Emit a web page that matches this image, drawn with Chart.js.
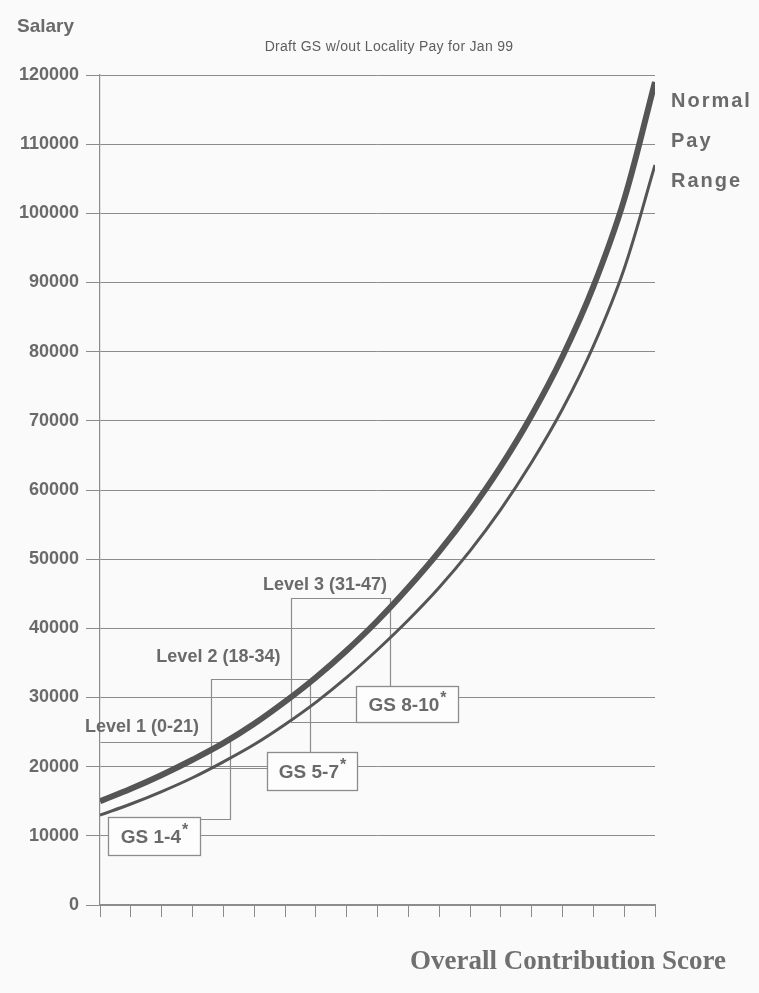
<!DOCTYPE html>
<html>
<head>
<meta charset="utf-8">
<title>Normal Pay Range</title>
<script src="https://cdn.jsdelivr.net/npm/chart.js@4.4.1/dist/chart.umd.min.js"></script>
<style>
  html, body { margin: 0; padding: 0; background: #fafafa; }
  #wrap { width: 759px; height: 993px; }
  canvas { display: block; }
</style>
</head>
<body>
<div id="wrap"><canvas id="payChart" width="759" height="993"></canvas></div>
<script>
// Overall contribution score (x axis, one tick every 5 points)
const scores = [0, 5, 10, 15, 20, 25, 30, 35, 40, 45, 50, 55, 60, 65, 70, 75, 80, 85, 90];

// Upper edge of the normal pay range (salary, $)
const upperPay = [15000, 16800, 18800, 21000, 23400, 26200, 29400, 32900, 36800, 41100,
                  45900, 51100, 56900, 63400, 70800, 79300, 89400, 102000, 119000];

// Lower edge of the normal pay range (salary, $)
const lowerPay = [13000, 14600, 16400, 18400, 20700, 23200, 26100, 29300, 32900, 36900,
                  41200, 45900, 51200, 57200, 64000, 71700, 80800, 92000, 107000];

// Salary axis ticks
const salaryTicks = [0, 10000, 20000, 30000, 40000, 50000, 60000, 70000, 80000, 90000, 100000, 110000, 120000];

// Contribution levels and their score ranges
const levelNames = ['Level 1 (0-21)', 'Level 2 (18-34)', 'Level 3 (31-47)'];
const levelFrom = [0, 18, 31];
const levelTo = [21, 34, 47];

// GS grades matched to each level
const gradeNames = ['GS 1-4', 'GS 5-7', 'GS 8-10'];

const chartTitle = 'Draft GS w/out Locality Pay for Jan 99';
const yAxisTitle = 'Salary';
const xAxisTitle = 'Overall Contribution Score';
const rangeLabel = ['Normal', 'Pay', 'Range'];

const TEXT = '#6a6a6a';
const RULE = '#8c8c8c';
const CURVE = '#555555';

// Placement of the level brackets and grade boxes, in axis units (score, salary)
const bracketTop = [23500, 32700, 44400];
const bracketBase = [12400, 19800, 26500];
const boxes = [
  { x0: 1.3,  x1: 16.2, yTop: 12700, yBot: 7200 },
  { x0: 27.1, x1: 41.7, yTop: 22100, yBot: 16600 },
  { x0: 41.5, x1: 58.1, yTop: 31700, yBot: 26500 }
];
const levelLabelAt = [
  { x: 6.8,  y: 25700 },
  { x: 19.2, y: 35900 },
  { x: 36.5, y: 46300 }
];

function bracketPath(i) {
  const b = boxes[i];
  if (i === 0) {
    return [[levelFrom[i], bracketTop[i]], [levelTo[i], bracketTop[i]],
            [levelTo[i], bracketBase[i]], [b.x1, bracketBase[i]]];
  }
  return [[b.x0, bracketBase[i]], [levelFrom[i], bracketBase[i]],
          [levelFrom[i], bracketTop[i]], [levelTo[i], bracketTop[i]],
          [levelTo[i], b.yTop]];
}

const decorations = {
  id: 'decorations',
  beforeDraw(chart) {
    const c = chart.ctx;
    c.save();
    c.fillStyle = '#fafafa';
    c.fillRect(0, 0, chart.width, chart.height);
    c.restore();
  },
  beforeDatasetsDraw(chart) {
    const c = chart.ctx, xs = chart.scales.x, ys = chart.scales.y;
    c.save();
    c.strokeStyle = RULE;
    c.lineWidth = 1.2;
    levelNames.forEach((_, i) => {
      const pts = bracketPath(i);
      c.beginPath();
      pts.forEach(([sx, sy], k) => {
        const px = Math.round(xs.getPixelForValue(sx)) + 0.5;
        const py = Math.round(ys.getPixelForValue(sy)) + 0.5;
        if (k === 0) c.moveTo(px, py); else c.lineTo(px, py);
      });
      c.stroke();
    });
    c.restore();
  },
  afterDatasetsDraw(chart) {
    const c = chart.ctx, xs = chart.scales.x, ys = chart.scales.y;
    c.save();

    // grade boxes
    boxes.forEach((b, i) => {
      const l = Math.round(xs.getPixelForValue(b.x0)) + 0.5;
      const r = Math.round(xs.getPixelForValue(b.x1)) + 0.5;
      const t = Math.round(ys.getPixelForValue(b.yTop)) + 0.5;
      const btm = Math.round(ys.getPixelForValue(b.yBot)) + 0.5;
      c.fillStyle = '#fdfdfd';
      c.fillRect(l, t, r - l, btm - t);
      c.strokeStyle = RULE;
      c.lineWidth = 1.3;
      c.strokeRect(l, t, r - l, btm - t);

      c.fillStyle = TEXT;
      c.textBaseline = 'middle';
      c.textAlign = 'left';
      const main = gradeNames[i];
      c.font = 'bold 19px "Liberation Sans", Arial, sans-serif';
      const w = c.measureText(main).width;
      c.font = 'bold 16px "Liberation Sans", Arial, sans-serif';
      const ws = c.measureText('*').width;
      const cx = (l + r) / 2, cy = (t + btm) / 2 + 1;
      const start = cx - (w + ws + 1) / 2;
      c.font = 'bold 19px "Liberation Sans", Arial, sans-serif';
      c.fillText(main, start, cy);
      c.font = 'bold 16px "Liberation Sans", Arial, sans-serif';
      c.fillText('*', start + w + 1, cy - 7);
    });

    // level captions
    c.fillStyle = TEXT;
    c.font = 'bold 18px "Liberation Sans", Arial, sans-serif';
    c.textAlign = 'center';
    c.textBaseline = 'middle';
    levelNames.forEach((name, i) => {
      const p = levelLabelAt[i];
      c.fillText(name, xs.getPixelForValue(p.x), ys.getPixelForValue(p.y));
    });

    // salary axis caption
    c.textAlign = 'left';
    c.font = 'bold 19px "Liberation Sans", Arial, sans-serif';
    c.fillText(yAxisTitle, 17, 27);

    // chart title
    c.textAlign = 'center';
    c.font = '14px "Liberation Sans", Arial, sans-serif';
    c.fillStyle = '#5e5e5e';
    if ('letterSpacing' in c) c.letterSpacing = '0.3px';
    c.fillText(chartTitle, 389, 47);
    if ('letterSpacing' in c) c.letterSpacing = '0px';

    // range caption beside the curves
    c.textAlign = 'left';
    c.fillStyle = TEXT;
    c.font = 'bold 20px "Liberation Sans", Arial, sans-serif';
    if ('letterSpacing' in c) c.letterSpacing = '2px';
    rangeLabel.forEach((s, k) => c.fillText(s, 671, 101 + k * 40));
    if ('letterSpacing' in c) c.letterSpacing = '0px';

    // score axis caption
    c.textAlign = 'center';
    c.fillStyle = '#707070';
    c.font = 'bold 27px "Liberation Serif", "Times New Roman", serif';
    c.fillText(xAxisTitle, 568, 962);

    c.restore();
  }
};

const ctx = document.getElementById('payChart').getContext('2d');
new Chart(ctx, {
  type: 'line',
  data: {
    datasets: [
      {
        label: 'Upper',
        data: scores.map((s, i) => ({ x: s, y: upperPay[i] })),
        borderColor: CURVE,
        borderWidth: 6,
        pointRadius: 0,
        fill: false,
        tension: 0.35
      },
      {
        label: 'Lower',
        data: scores.map((s, i) => ({ x: s, y: lowerPay[i] })),
        borderColor: CURVE,
        borderWidth: 3,
        pointRadius: 0,
        fill: false,
        tension: 0.35
      }
    ]
  },
  options: {
    responsive: false,
    animation: false,
    devicePixelRatio: 1,
    layout: { padding: { top: 75, right: 104, bottom: 0, left: 0 } },
    plugins: { legend: { display: false }, tooltip: { enabled: false } },
    scales: {
      x: {
        type: 'linear',
        min: scores[0],
        max: scores[scores.length - 1],
        afterBuildTicks(scale) { scale.ticks = scores.map(v => ({ value: v })); },
        ticks: { display: false },
        grid: { drawOnChartArea: false, drawTicks: true, tickLength: 12, color: RULE, lineWidth: 1 },
        border: { color: RULE, width: 1.2 },
        afterFit(scale) { scale.height = 88; }
      },
      y: {
        min: salaryTicks[0],
        max: salaryTicks[salaryTicks.length - 1],
        afterBuildTicks(scale) { scale.ticks = salaryTicks.map(v => ({ value: v })); },
        ticks: {
          color: TEXT,
          padding: 7,
          font: { family: '"Liberation Sans", Arial, sans-serif', weight: 'bold', size: 18 },
          callback: v => String(v)
        },
        grid: { color: RULE, lineWidth: 1, tickLength: 14 },
        border: { color: RULE, width: 1.2 },
        afterFit(scale) { scale.width = 100; }
      }
    }
  },
  plugins: [decorations]
});
</script>
</body>
</html>
